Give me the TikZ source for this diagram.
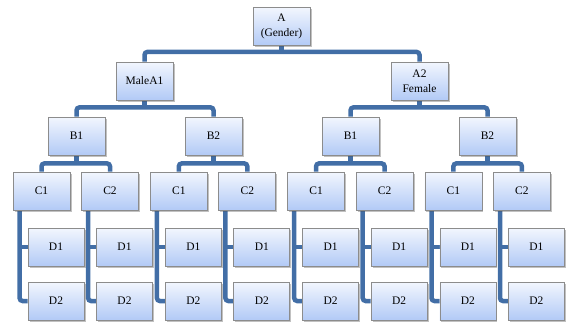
\documentclass[tikz,border=0pt]{standalone}
\usepackage{fontspec}
\setmainfont{Liberation Serif}
\usetikzlibrary{shadows,backgrounds}
\definecolor{linkblue}{RGB}{66,110,166}
\definecolor{boxtop}{RGB}{242,246,254}
\definecolor{boxbot}{RGB}{178,202,246}
\definecolor{boxedge}{RGB}{140,140,140}
\tikzset{
  box/.style={draw=boxedge, line width=0.8pt, top color=boxtop, bottom color=boxbot,
    minimum width=57pt, minimum height=38pt, inner sep=0pt, align=center,
    font=\fontsize{11.5}{15}\selectfont,
    drop shadow={shadow xshift=1.5pt, shadow yshift=-1.5pt, opacity=0.35, fill=black!70}},
  dbox/.style={box, minimum width=56pt},
  link/.style={draw=linkblue, line width=4.5pt, rounded corners=3pt}
}
\begin{document}
\begin{tikzpicture}[x=1pt,y=-1pt]
\useasboundingbox (0,0) rectangle (568,327);

% root and the two gender nodes
\node[box] (A) at (281.5,26.5) {A\\(Gender)};
\node[box] (M) at (144.5,81) {MaleA1};
\node[box] (F) at (419.5,81) {A2\\Female};

% B level
\node[box] (b0) at (76.5,136) {B1};
\node[box] (b1) at (213.5,136) {B2};
\node[box] (b2) at (350.5,136) {B1};
\node[box] (b3) at (487.5,136) {B2};

% C and D levels
\foreach \k in {0,...,3}{
  \foreach \j in {1,2}{
    \pgfmathsetmacro\cx{41.5+137.3*\k+68.5*(\j-1)}
    \pgfmathsetmacro\dx{\cx+14.5}
    \node[box] (c\k\j) at (\cx,191) {C\j};
    \node[dbox] (p\k\j) at (\dx,247) {D1};
    \node[dbox] (q\k\j) at (\dx,301) {D2};
  }
}

\begin{pgfonlayer}{background}
  % root to gender nodes
  \draw[link] (A.south) -- ([yshift=-6pt]A.south);
  \draw[link] (M.north) |- ([yshift=-6pt]A.south) -| (F.north);
  % gender nodes to B nodes
  \draw[link] (M.south) -- ([yshift=-7pt]M.south);
  \draw[link] (b0.north) |- ([yshift=-7pt]M.south) -| (b1.north);
  \draw[link] (F.south) -- ([yshift=-7pt]F.south);
  \draw[link] (b2.north) |- ([yshift=-7pt]F.south) -| (b3.north);
  % B nodes to C nodes, C nodes to D nodes
  \foreach \k in {0,...,3}{
    \draw[link] (b\k.south) -- ([yshift=-8pt]b\k.south);
    \draw[link] (c\k1.north) |- ([yshift=-8pt]b\k.south) -| (c\k2.north);
    \foreach \j in {1,2}{
      \coordinate (t\k\j) at ([xshift=7pt]c\k\j.south west);
      \draw[link] (t\k\j) |- (q\k\j.west);
      \draw[link] (t\k\j |- p\k\j.west) -- (p\k\j.west);
    }
  }
\end{pgfonlayer}
\end{tikzpicture}
\end{document}
